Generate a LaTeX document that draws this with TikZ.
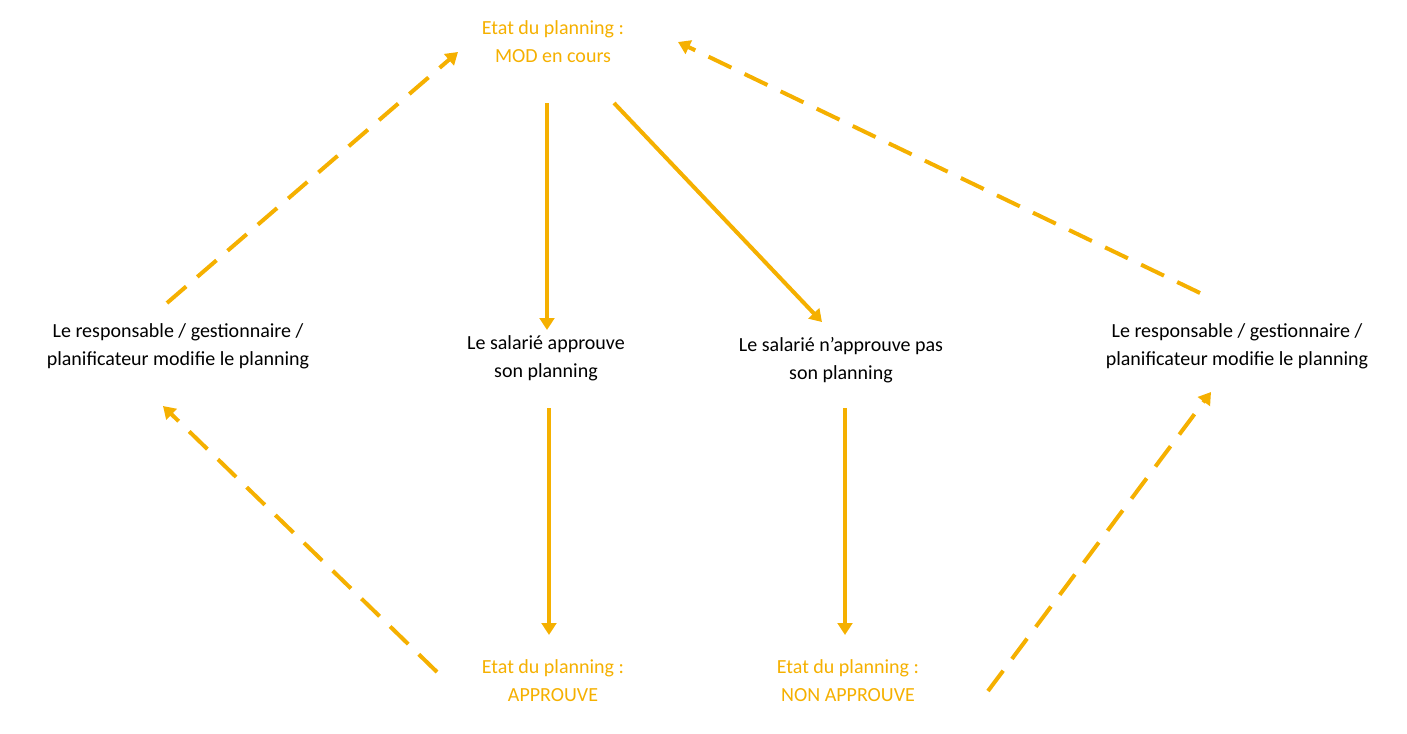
\documentclass[tikz,border=0pt]{standalone}
\usepackage{fontspec}
\setmainfont{Carlito}
\usetikzlibrary{arrows.meta}
\definecolor{orng}{RGB}{245,176,0}
\begin{document}
\begin{tikzpicture}[x=0.75pt,y=-0.75pt,
  lbl/.style={align=center,font=\fontsize{15}{21}\selectfont},
  st/.style={lbl,text=orng},
  arr/.style={draw=orng,line width=3pt,-{Triangle[length=9pt,width=11pt]}},
  dsh/.style={arr,dash pattern=on 19pt off 11pt}]
\useasboundingbox (0,0) rectangle (1407,733);
\node[st] (top) at (553,42) {Etat du planning :\\MOD en cours};
\node[lbl] (L) at (178,346) {Le responsable / gestionnaire /\\planificateur modifie le planning};
\node[lbl] (R) at (1237,346) {Le responsable / gestionnaire /\\planificateur modifie le planning};
\node[lbl] (m1) at (546,358) {Le salarié approuve\\son planning};
\node[lbl] (m2) at (841,360) {Le salarié n'approuve pas\\son planning};
\node[st] (b1) at (553,681) {Etat du planning :\\APPROUVE};
\node[st] (b2) at (848,681) {Etat du planning :\\NON APPROUVE};
\coordinate (a1) at (167,303); \coordinate (a2) at (458,52);
\coordinate (c1) at (1200,293); \coordinate (c2) at (678,42);
\coordinate (d1) at (547,103); \coordinate (d2) at (547,330);
\coordinate (e1) at (614,103); \coordinate (e2) at (822,322);
\coordinate (f1) at (549,408); \coordinate (f2) at (549,635);
\coordinate (g1) at (845,408); \coordinate (g2) at (845,635);
\coordinate (h1) at (437,672); \coordinate (h2) at (163,406);
\coordinate (k1) at (988,691); \coordinate (k2) at (1211,392);
\draw[dsh] (a1) -- (a2);
\draw[dsh] (c1) -- (c2);
\draw[arr] (d1) -- (d2);
\draw[arr] (e1) -- (e2);
\draw[arr] (f1) -- (f2);
\draw[arr] (g1) -- (g2);
\draw[dsh] (h1) -- (h2);
\draw[dsh] (k1) -- (k2);
\end{tikzpicture}
\end{document}
